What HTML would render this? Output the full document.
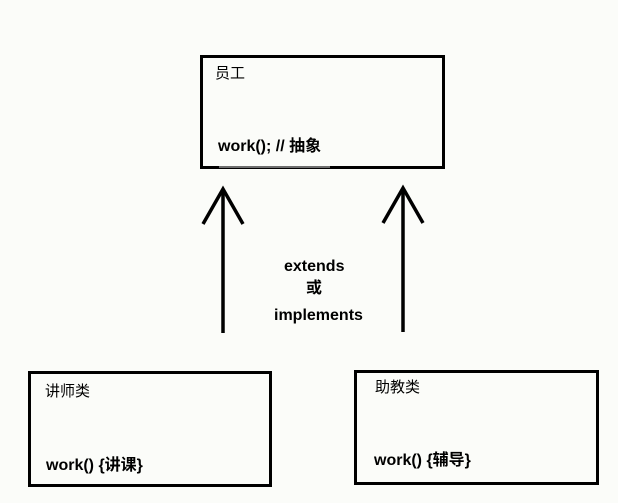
<!DOCTYPE html>
<html><head><meta charset="utf-8"><style>
html,body{margin:0;padding:0;background:#fbfcf9;}
body{width:618px;height:503px;position:relative;overflow:hidden;font-family:"Liberation Sans","Noto Sans CJK SC",sans-serif;color:#000;}
.box{position:absolute;border:3px solid #000;box-sizing:border-box;}
.t{position:absolute;font-size:15px;line-height:16px;white-space:nowrap;}
.b{font-weight:bold;font-size:16px;}
</style></head><body>
<div class="box" style="left:200px;top:55px;width:245px;height:114px"></div>
<div class="box" style="left:28px;top:371px;width:244px;height:116px"></div>
<div class="box" style="left:354px;top:370px;width:245px;height:115px"></div>
<svg width="618" height="503" style="position:absolute;left:0;top:0">
<g stroke="#000" stroke-width="3.5" fill="none">
<line x1="223" y1="189" x2="223" y2="333"/>
<polyline points="203,224 223,189 243,224"/>
<line x1="403" y1="188" x2="403" y2="332"/>
<polyline points="383,223 403,188 423,223"/>
</g>
<line x1="219" y1="167" x2="330" y2="167" stroke="#ddd" stroke-width="1"/>
</svg>
<div class="t" style="left:215px;top:66px">员工</div>
<div class="t b" style="left:218px;top:139px">work(); // 抽象</div>
<div class="t b" style="left:284px;top:259px">extends</div>
<div class="t b" style="left:306px;top:281px">或</div>
<div class="t b" style="left:274px;top:308px">implements</div>
<div class="t" style="left:45px;top:384px">讲师类</div>
<div class="t b" style="left:46px;top:458px">work() {讲课}</div>
<div class="t" style="left:375px;top:380px">助教类</div>
<div class="t b" style="left:374px;top:453px">work() {辅导}</div>
</body></html>
